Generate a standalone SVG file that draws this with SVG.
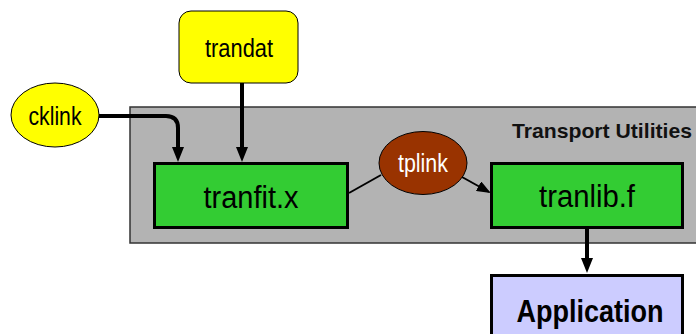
<svg xmlns="http://www.w3.org/2000/svg" width="696" height="334" viewBox="0 0 696 334">
<defs>
<marker id="ah" markerWidth="15" markerHeight="12" viewBox="0 0 15 12" refX="3" refY="6" orient="auto" markerUnits="userSpaceOnUse">
<path d="M0,0 L15,6 L0,12 Z" fill="#000"/>
</marker>
<marker id="ahs" markerWidth="14" markerHeight="11" viewBox="0 0 14 11" refX="12" refY="5.5" orient="auto" markerUnits="userSpaceOnUse">
<path d="M0,0 L14,5.5 L0,11 Z" fill="#000"/>
</marker>
</defs>
<style>
.t{font-family:"Liberation Sans Narrow","Liberation Sans",Arial,sans-serif;text-anchor:middle;}
.box{stroke:#000;stroke-width:3;}
.conn{fill:none;stroke:#000;stroke-width:4;}
.thin{fill:none;stroke:#000;stroke-width:2;}
</style>
<g id="transport-utilities">
<rect x="130" y="107" width="570" height="136" fill="#b3b3b3" stroke="#333" stroke-width="1.5"/>
<text x="692" y="138" font-family="Liberation Sans, Arial, sans-serif" font-weight="bold" font-size="20.5" text-anchor="end" fill="#111" textLength="180" lengthAdjust="spacingAndGlyphs">Transport Utilities</text>
</g>
<g id="connectors">
<path class="conn" d="M99,116 H166 Q178,116 178,128 V150" marker-end="url(#ah)"/>
<line class="conn" x1="242" y1="83" x2="242" y2="150" marker-end="url(#ah)"/>
<line class="thin" x1="349" y1="193" x2="381" y2="175"/>
<line class="thin" x1="462" y1="177" x2="489" y2="192" marker-end="url(#ahs)"/>
<line class="conn" x1="587" y1="227" x2="587" y2="261" marker-end="url(#ah)"/>
</g>
<g id="trandat">
<rect x="179" y="11" width="119" height="72" rx="12" fill="#ffff00" stroke="#000" stroke-width="1"/>
<text class="t" x="239" y="57" font-size="25" textLength="68" lengthAdjust="spacingAndGlyphs">trandat</text>
</g>
<g id="cklink">
<ellipse cx="55" cy="115" rx="44" ry="32" fill="#ffff00" stroke="#000" stroke-width="1"/>
<text class="t" x="55" y="125" font-size="25" textLength="53" lengthAdjust="spacingAndGlyphs">cklink</text>
</g>
<g id="tplink">
<ellipse cx="423" cy="163" rx="44" ry="31.5" fill="#993300" stroke="#000" stroke-width="1"/>
<text class="t" x="423" y="172" font-size="25" fill="#fff" textLength="50" lengthAdjust="spacingAndGlyphs">tplink</text>
</g>
<g id="tranfit">
<rect class="box" x="154.5" y="163.5" width="193" height="64" fill="#33cc33"/>
<text class="t" x="251" y="208" font-size="31" textLength="95" lengthAdjust="spacingAndGlyphs">tranfit.x</text>
</g>
<g id="tranlib">
<rect class="box" x="491.5" y="163.5" width="191" height="64" fill="#33cc33"/>
<text class="t" x="587" y="207" font-size="31" textLength="96" lengthAdjust="spacingAndGlyphs">tranlib.f</text>
</g>
<g id="application">
<rect class="box" x="491.5" y="275.5" width="191" height="70" fill="#ccccff"/>
<text class="t" x="590" y="322" font-size="31" font-weight="bold" textLength="147" lengthAdjust="spacingAndGlyphs">Application</text>
</g>
</svg>
